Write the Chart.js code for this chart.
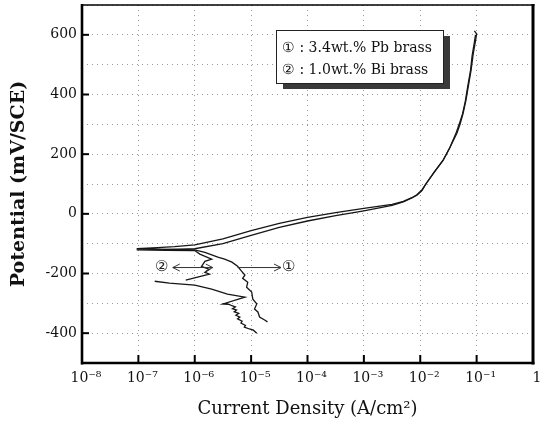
<!DOCTYPE html>
<html><head><meta charset="utf-8">
<script src="https://cdn.jsdelivr.net/npm/chart.js@4.4.1/dist/chart.umd.min.js"></script>
<style>html,body{margin:0;padding:0;background:#fff}</style>
</head><body>
<canvas id="c" width="544" height="422" style="width:544px;height:422px;display:block"></canvas>
<script>
// ---- data (log10 of current density, potential in mV/SCE) ----
// Curve 1: 3.4wt.% Pb brass (cathodic branch -> Ecorr -> anodic branch)
const pbLogI = [-4.71,-4.76,-4.85,-4.88,-4.94,-4.90,-4.97,-4.99,-5.08,-5.06,-5.15,-5.11,-5.17,-5.24,-5.34,-5.47,-5.59,-5.82,-6.00,
                -6.36,-6.70,-7.03,
                -6.66,-6.36,-6.00,-5.50,-5.00,-4.50,-4.00,-3.50,-3.00,-2.50,-2.30,-2.15,-2.06,-1.97,-1.89,-1.75,-1.59,-1.47,-1.35,-1.29,-1.24,-1.19,-1.15,-1.10,-1.06,-1.02,-1.00,-1.04];
const pbE    = [-362,-356,-346,-329,-319,-302,-286,-262,-246,-229,-216,-205,-192,-176,-162,-152,-145,-129,-121,
                -119,-118,-117,
                -113,-110,-104,-84,-56,-32,-12,4,18,32,42,54,64,80,103,140,181,224,270,303,337,380,425,480,537,580,603,613];
// Curve 2: 1.0wt.% Bi brass
const biLogI = [-6.16,-5.95,-5.74,-5.82,-5.74,-5.88,-5.82,-5.70,-5.91,-6.00,
                -6.50,-7.03,
                -6.50,-6.00,-5.50,-5.00,-4.50,-4.00,-3.50,-3.00,-2.50,-2.30,-2.15,-2.06,-1.97,-1.90,-1.76,-1.60,-1.48,-1.37,-1.31,-1.25,-1.20,-1.16,-1.11,-1.08,-1.04,-1.02];
const biE    = [-222,-212,-202,-196,-186,-176,-159,-152,-135,-123,
                -122,-121,
                -120,-117,-100,-72,-45,-24,-6,10,28,40,53,62,78,100,138,178,220,268,300,335,378,425,478,530,575,600];
// Curve 2, lower cathodic portion
const biLowLogI = [-6.71,-6.45,-6.00,-5.70,-5.42,-5.11,-5.50,-5.40,-5.34,-5.28,-5.33,-5.26,-5.30,-5.22,-5.27,-5.20,-5.24,-5.16,-5.18,-5.10,-5.12,-5.03,-4.96,-4.90];
const biLowE    = [-226,-232,-239,-252,-269,-279,-302,-303,-308,-312,-318,-322,-328,-334,-340,-346,-352,-360,-366,-374,-380,-386,-390,-400];

// axis ticks
const xDecades = [-8,-7,-6,-5,-4,-3,-2,-1,0];
const yLabelValues = [-400,-200,0,200,400,600];

// annotations (data units)
const annotE = -180;
const label2LogI = -6.59, arrow2From = -6.39, arrow2To = -5.68;
const arrow1From = -5.24, arrow1To = -4.47, label1LogI = -4.33;
const legendLines = ['\u2460 : 3.4wt.% Pb brass', '\u2461 : 1.0wt.% Bi brass'];

const toPts = (lx, ly) => lx.map((v, i) => ({x: Math.pow(10, v), y: ly[i]}));
const SUP = {'-':'\u207B','0':'\u2070','1':'\u00B9','2':'\u00B2','3':'\u00B3','4':'\u2074','5':'\u2075','6':'\u2076','7':'\u2077','8':'\u2078','9':'\u2079'};
const SERIF = "'DejaVu Serif', 'Liberation Serif', serif";

const lineDs = (label, data) => ({label, data, borderColor:'#161616', borderWidth:1.3, pointRadius:0, tension:0, fill:false});

const decor = {
  id:'decor',
  afterDraw(chart){
    const {ctx, chartArea:a, scales:{x, y}} = chart;
    ctx.save();
    ctx.strokeStyle = '#000';
    const side = (x1,y1,x2,y2,w)=>{ctx.lineWidth=w;ctx.beginPath();ctx.moveTo(x1,y1);ctx.lineTo(x2,y2);ctx.stroke();};
    side(a.left, a.top-1, a.left, a.bottom+1.5, 2.6);
    side(a.left-1, a.bottom, a.right+1.5, a.bottom, 2.6);
    side(a.right, a.top-1, a.right, a.bottom+1.5, 3);
    side(a.left-1, a.top, a.right+1.5, a.top, 1.6);
    xDecades.slice(1,-1).forEach(e=>{const px=x.getPixelForValue(Math.pow(10,e)); side(px,a.bottom,px,a.bottom-8,2);});
    yLabelValues.forEach(v=>{const py=y.getPixelForValue(v); side(a.left,py,a.left+7,py,2);});
    const ay = y.getPixelForValue(annotE);
    const px = v => x.getPixelForValue(Math.pow(10, v));
    ctx.fillStyle = '#222';
    ctx.font = "15px " + SERIF;
    ctx.textAlign='center'; ctx.textBaseline='middle';
    ctx.fillText('\u2461', px(label2LogI), ay);
    ctx.fillText('\u2460', px(label1LogI), ay);
    ctx.strokeStyle='#333'; ctx.lineWidth=1;
    const head=(hx,dir)=>{ctx.beginPath();ctx.moveTo(hx-dir*7,ay-3.5);ctx.lineTo(hx,ay);ctx.lineTo(hx-dir*7,ay+3.5);ctx.stroke();};
    ctx.beginPath();ctx.moveTo(px(arrow2From),ay);ctx.lineTo(px(arrow2To),ay);ctx.stroke();
    head(px(arrow2From),-1); head(px(arrow2To),1);
    ctx.beginPath();ctx.moveTo(px(arrow1From),ay);ctx.lineTo(px(arrow1To),ay);ctx.stroke();
    head(px(arrow1To),1);
    const bx=a.left+194, by=a.top+25, bw=167, bh=53;
    ctx.fillStyle='#3a3a3a'; ctx.fillRect(bx+7,by+6,bw,bh);
    ctx.fillStyle='#fff'; ctx.fillRect(bx,by,bw,bh);
    ctx.strokeStyle='#222'; ctx.lineWidth=1; ctx.strokeRect(bx+0.5,by+0.5,bw,bh);
    ctx.fillStyle='#111'; ctx.font="14px "+SERIF; ctx.textAlign='left'; ctx.textBaseline='alphabetic';
    ctx.fillText(legendLines[0], bx+6, by+22);
    ctx.fillText(legendLines[1], bx+6, by+44);
    ctx.restore();
  }
};

new Chart(document.getElementById('c'), {
  type:'line',
  data:{datasets:[
    lineDs('3.4wt.% Pb brass', toPts(pbLogI, pbE)),
    lineDs('1.0wt.% Bi brass', toPts(biLogI, biE)),
    lineDs('1.0wt.% Bi brass (low)', toPts(biLowLogI, biLowE))
  ]},
  options:{
    responsive:false, animation:false, devicePixelRatio:1,
    layout:{padding:{left:0,right:11,top:5,bottom:0}},
    plugins:{legend:{display:false}, tooltip:{enabled:false}},
    scales:{
      x:{type:'logarithmic', min:1e-8, max:1,
        afterBuildTicks:s=>{s.ticks = xDecades.map(e=>({value:Math.pow(10,e)}));},
        afterFit:s=>{s.height=59; s.paddingLeft=0; s.paddingRight=0;},
        grid:{color:'#9a9a9a', lineWidth:1, drawTicks:false},
        border:{display:false, dash:[1,4]},
        ticks:{autoSkip:false, maxRotation:0, padding:7, labelOffset:4, color:'#111',
          font:{family:SERIF, size:14},
          callback:(v)=>{const e=Math.round(Math.log10(v)); return e===0?'1':'10'+String(e).split('').map(c=>SUP[c]).join('');}},
        title:{display:true, text:'Current Density (A/cm\u00B2)', color:'#111', font:{family:SERIF, size:18}, padding:{top:0,bottom:2}}
      },
      y:{min:-500, max:700,
        afterFit:s=>{s.width=82; s.paddingTop=0; s.paddingBottom=0;},
        grid:{color:'#9a9a9a', lineWidth:1, drawTicks:false},
        border:{display:false, dash:[1,4]},
        ticks:{stepSize:100, autoSkip:false, padding:5, color:'#111', font:{family:SERIF, size:14},
          callback:(v)=> yLabelValues.includes(v) ? String(v) : ''},
        title:{display:true, text:'Potential (mV/SCE)', color:'#111', font:{family:SERIF, size:19, weight:'bold'}, padding:{top:8,bottom:0}}
      }
    }
  },
  plugins:[decor]
});
</script>
</body></html>
